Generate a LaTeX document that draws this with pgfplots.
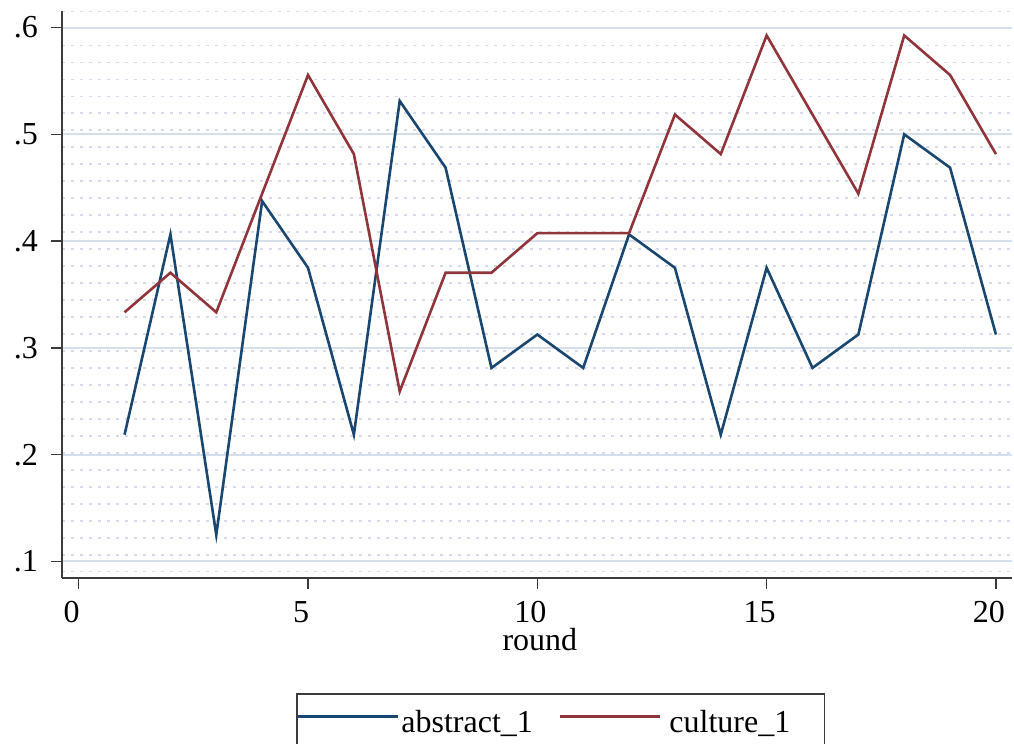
\documentclass[border=0pt]{standalone}
\usepackage{fontspec}
\setmainfont{Liberation Serif}
\usepackage{pgfplots}
\usepackage{pgfplotstable}
\pgfplotsset{compat=1.18}
\definecolor{stnavy}{RGB}{26,71,111}
\definecolor{stmaroon}{RGB}{144,53,59}
\definecolor{gridc}{RGB}{216,223,236}
\definecolor{dotc}{RGB}{214,220,234}
\definecolor{axc}{RGB}{60,60,60}

\pgfplotstableread{
x abstract culture
1 0.21875 0.33333
2 0.40625 0.37037
3 0.125 0.33333
4 0.4375 0.44444
5 0.375 0.55556
6 0.21875 0.48148
7 0.53125 0.25926
8 0.46875 0.37037
9 0.28125 0.37037
10 0.3125 0.40741
11 0.28125 0.40741
12 0.40625 0.40741
13 0.375 0.51852
14 0.21875 0.48148
15 0.375 0.59259
16 0.28125 0.51852
17 0.3125 0.44444
18 0.5 0.59259
19 0.46875 0.55556
20 0.3125 0.48148
}\datatab

\begin{document}
\begin{tikzpicture}
\begin{axis}[name=ax, at={(0,0)}, anchor=south west,
  scale only axis, width=475pt, height=283.5pt,
  xmin=-0.364, xmax=20.35, ymin=0.0845, ymax=0.6155,
  axis x line*=bottom, axis y line*=left,
  axis line style={draw=axc, line width=1pt},
  xtick={0,5,10,15,20},
  ytick={0.1,0.2,0.3,0.4,0.5,0.6},
  yticklabels={.1,.2,.3,.4,.5,.6},
  tick align=outside, major tick length=5.5pt,
  major tick style={draw=axc, line width=0.8pt},
  minor tick length=0pt,
  /pgf/number format/assume math mode=true,
  tick label style={font=\fontsize{16}{19}\selectfont},
  xticklabel style={xshift=-3.5pt, yshift=-2.5pt},
  yticklabel style={xshift=-3pt},
  ymajorgrids, yminorgrids,
  major grid style={draw=gridc, line width=1pt},
  minor ytick={0.0904,0.1063,...,0.6160},
  minor grid style={draw=dotc, line width=0.8pt, dash pattern=on 1.5pt off 3pt},
  xlabel={round},
  xlabel style={at={(rel axis cs:0.503,0)}, anchor=base, yshift=-36.5pt, font=\fontsize{16}{19}\selectfont},
  legend style={at={(rel axis cs:0.2463,-0.2032)}, anchor=north west,
    legend columns=2, draw=axc, line width=0.8pt, inner xsep=0pt, inner ysep=6pt,
    font=\fontsize{16}{19}\selectfont,
    nodes={inner xsep=1pt, inner ysep=2pt},
    /tikz/every even column/.append style={column sep=12pt}},
  legend image code/.code={\draw[#1, line width=1.3pt] (0pt,0.3em) -- (50pt,0.3em);},
]
\addplot[stnavy, line width=1.3pt] table[x=x, y=abstract] {\datatab};
\addlegendentry{abstract\_1}
\addplot[stmaroon, line width=1.3pt] table[x=x, y=culture] {\datatab};
\addlegendentry{\kern3pt culture\_1\kern16pt\null}
\end{axis}
\pgfresetboundingbox
\path[use as bounding box] (-31pt,-83pt) rectangle (476pt,289pt);
\end{tikzpicture}
\end{document}
